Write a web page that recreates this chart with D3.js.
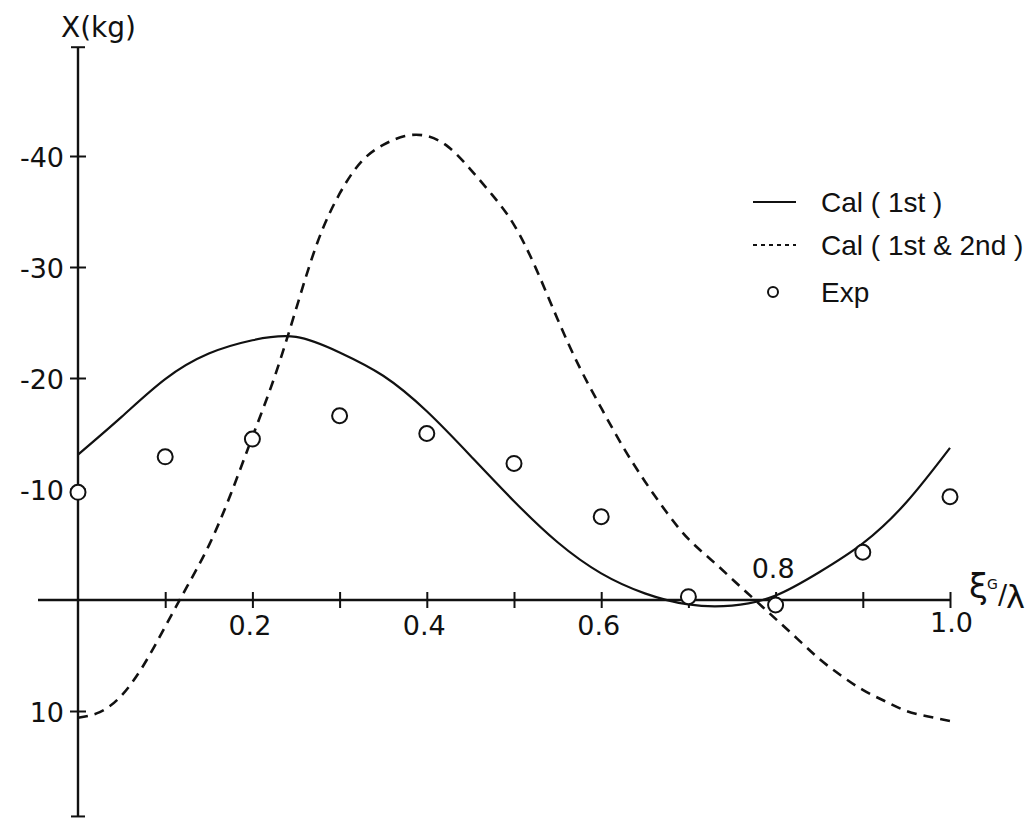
<!DOCTYPE html>
<html>
<head>
<meta charset="utf-8">
<script src="https://cdn.jsdelivr.net/npm/d3@7/dist/d3.min.js"></script>
<style>
  html, body { margin: 0; padding: 0; background: #fff; }
  svg { display: block; }
  text { fill: #111; }
</style>
</head>
<body>
<svg id="chart" width="1035" height="818"></svg>
<script>
// Calculated surge force X (kg), first-order only, against ξG/λ
const posFirst = [0, 0.05, 0.10, 0.15, 0.20, 0.25, 0.30, 0.35, 0.40, 0.45, 0.50,
                  0.55, 0.60, 0.65, 0.70, 0.75, 0.80, 0.85, 0.90, 0.95, 1.00];
const calFirst = [-13.1, -16.5, -19.9, -22.2, -23.4, -23.7, -22.3, -20.2, -17.0, -13.0, -8.9,
                  -5.2, -2.4, -0.6, 0.4, 0.5, -0.4, -2.5, -5.1, -8.8, -13.7];

// Calculated surge force X (kg), first and second order, against ξG/λ
const posSecond = [0, 0.025, 0.05, 0.075, 0.10, 0.125, 0.15, 0.175, 0.20, 0.225, 0.25,
                   0.275, 0.30, 0.325, 0.35, 0.375, 0.40, 0.425, 0.45, 0.475, 0.50,
                   0.525, 0.55, 0.575, 0.60, 0.625, 0.65, 0.675, 0.70, 0.725, 0.75,
                   0.775, 0.80, 0.825, 0.85, 0.875, 0.90, 0.925, 0.95, 0.975, 1.00];
const calSecond = [10.6, 10.1, 8.6, 5.9, 2.4, -1.2, -4.9, -9.5, -14.7, -20.0, -26.2,
                   -32.3, -36.6, -39.5, -41.0, -41.8, -41.8, -40.8, -38.8, -36.5, -33.8,
                   -29.9, -25.3, -21.0, -17.3, -13.8, -10.7, -7.9, -5.5, -3.7, -1.9,
                   -0.1, 1.7, 3.5, 5.3, 6.8, 8.1, 9.1, 10.0, 10.5, 10.9];

// Measured values
const expPositions = [0, 0.1, 0.2, 0.3, 0.4, 0.5, 0.6, 0.7, 0.8, 0.9, 1.0];
const expValues = [-9.7, -12.9, -14.5, -16.6, -15.0, -12.3, -7.5, -0.3, 0.45, -4.3, -9.3];

// Axis ticks and labels
const xTicks = [0.1, 0.2, 0.3, 0.4, 0.5, 0.6, 0.7, 0.8, 0.9, 1.0];
const xLabelled = ["0.2", "0.4", "0.6", "0.8", "1.0"];
const yTicks = [-40, -30, -20, -10, 10];
const yTickLabels = ["-40", "-30", "-20", "-10", "10"];
const legendLabels = ["Cal ( 1st )", "Cal ( 1st & 2nd )", "Exp"];

const numFont = "DejaVu Sans, Verdana, sans-serif";
const textFont = "Liberation Sans, Arial, Helvetica, sans-serif";
const ink = "#111";

const svg = d3.select("#chart");
const x = d3.scaleLinear().domain([0, 1]).range([78, 950]);
const y = d3.scaleLinear().domain([-40, 10]).range([156, 711]);

// ---- X axis (horizontal line at X = 0) ----
svg.append("line")
  .attr("x1", 38).attr("x2", x(1))
  .attr("y1", y(0)).attr("y2", y(0))
  .attr("stroke", ink).attr("stroke-width", 2.4);

const xAxisG = svg.append("g")
  .attr("transform", `translate(0,${y(0)})`)
  .call(d3.axisBottom(x).tickValues(xTicks).tickSize(8)
    .tickFormat(d => { const s = d.toFixed(1); return xLabelled.includes(s) ? s : ""; }));
xAxisG.select(".domain").remove();
xAxisG.selectAll(".tick line")
  .attr("y1", -8).attr("y2", 8)
  .attr("stroke", ink).attr("stroke-width", 2);
xAxisG.selectAll(".tick text")
  .attr("font-size", 27)
  .attr("font-family", numFont)
  .attr("fill", ink)
  .attr("dy", null)
  .attr("x", d => d.toFixed(1) === "1.0" ? 1 : -3)
  .attr("y", d => d.toFixed(1) === "0.8" ? -22 : (d.toFixed(1) === "1.0" ? 32 : 35));

// axis title ξG/λ
const xt = svg.append("g").attr("font-family", numFont);
xt.append("text").attr("x", 969).attr("y", 598).attr("font-size", 34).text("ξ");
xt.append("text").attr("x", 987).attr("y", 589).attr("font-size", 14).text("G");
xt.append("text").attr("x", 998).attr("y", 604).attr("font-size", 27).text("/");
xt.append("text").attr("x", 1006).attr("y", 608).attr("font-size", 32).text("λ");

// ---- Y axis ----
const yTop = y(-49.8), yBottom = y(19.5);
svg.append("line")
  .attr("x1", x(0)).attr("x2", x(0))
  .attr("y1", yTop).attr("y2", yBottom)
  .attr("stroke", ink).attr("stroke-width", 2.4);
// end caps
[yTop, yBottom].forEach(v => {
  svg.append("line")
    .attr("x1", x(0) - 7).attr("x2", x(0) + 7)
    .attr("y1", v).attr("y2", v)
    .attr("stroke", ink).attr("stroke-width", 2);
});

const yAxisG = svg.append("g")
  .attr("transform", `translate(${x(0)},0)`)
  .call(d3.axisLeft(y).tickValues(yTicks).tickSize(8)
    .tickFormat((d, i) => yTickLabels[i]));
yAxisG.select(".domain").remove();
yAxisG.selectAll(".tick line")
  .attr("x1", -8).attr("x2", 8)
  .attr("stroke", ink).attr("stroke-width", 2);
yAxisG.selectAll(".tick text")
  .attr("font-size", 27)
  .attr("font-family", numFont)
  .attr("fill", ink)
  .attr("x", -14)
  .attr("dy", "0.38em");

// axis title
svg.append("text")
  .attr("x", 61).attr("y", 37)
  .attr("font-size", 28)
  .attr("font-family", numFont)
  .text("X(kg)");

// ---- Curves ----
const line = d3.line()
  .x(d => x(d[0]))
  .y(d => y(d[1]))
  .curve(d3.curveNatural);

svg.append("path")
  .datum(posFirst.map((p, i) => [p, calFirst[i]]))
  .attr("d", line)
  .attr("fill", "none")
  .attr("stroke", ink)
  .attr("stroke-width", 2.2);

svg.append("path")
  .datum(posSecond.map((p, i) => [p, calSecond[i]]))
  .attr("d", line)
  .attr("fill", "none")
  .attr("stroke", ink)
  .attr("stroke-width", 2.6)
  .attr("stroke-dasharray", "10 7");

// ---- Measured points ----
svg.append("g")
  .selectAll("circle")
  .data(expPositions.map((p, i) => [p, expValues[i]]))
  .join("circle")
  .attr("cx", d => x(d[0]))
  .attr("cy", d => y(d[1]))
  .attr("r", 7.5)
  .attr("fill", "#fff")
  .attr("stroke", ink)
  .attr("stroke-width", 2);

// ---- Legend ----
const legend = svg.append("g").attr("transform", "translate(753,0)");
const rowY = [202, 245, 292];
legend.append("line")
  .attr("x1", 0).attr("x2", 43).attr("y1", rowY[0]).attr("y2", rowY[0])
  .attr("stroke", ink).attr("stroke-width", 2);
legend.append("line")
  .attr("x1", 0).attr("x2", 43).attr("y1", rowY[1]).attr("y2", rowY[1])
  .attr("stroke", ink).attr("stroke-width", 2)
  .attr("stroke-dasharray", "4 4");
legend.append("circle")
  .attr("cx", 20).attr("cy", rowY[2]).attr("r", 5)
  .attr("fill", "#fff").attr("stroke", ink).attr("stroke-width", 2);
legend.selectAll("text.lab")
  .data(legendLabels)
  .join("text")
  .attr("class", "lab")
  .attr("x", 68)
  .attr("y", (d, i) => rowY[i] + 10)
  .attr("font-size", 28)
  .attr("font-family", textFont)
  .text(d => d);
</script>
</body>
</html>
